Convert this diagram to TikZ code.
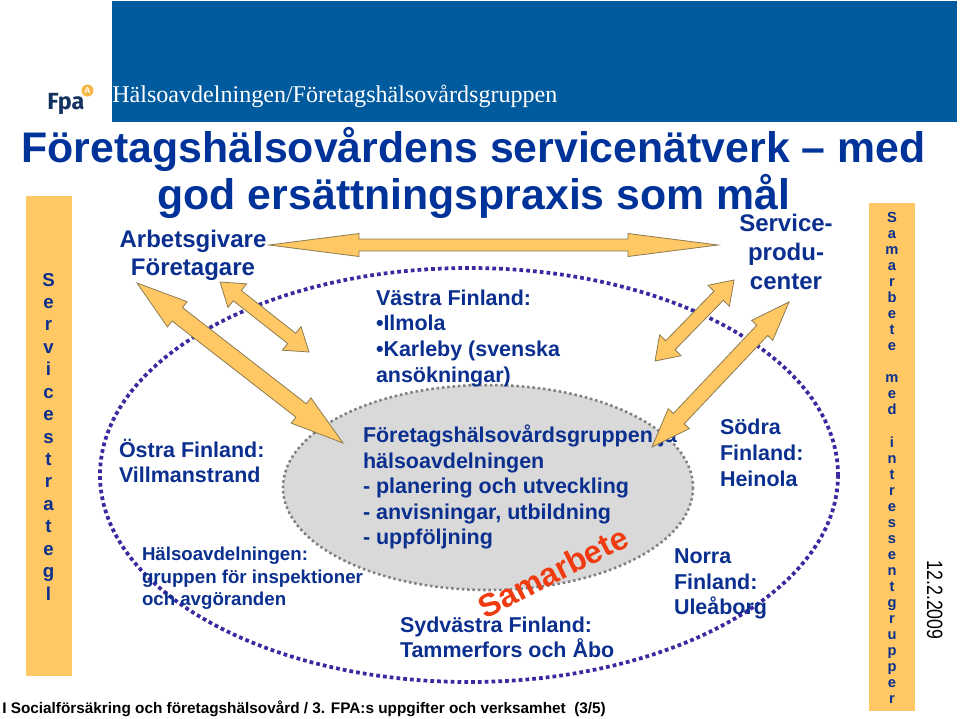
\documentclass[tikz,border=0pt]{standalone}
\usepackage{fontspec}
\setmainfont{Liberation Sans}
\newfontfamily\serifhead{Liberation Serif}
\newfontfamily\logofont{Fira Sans}
\usetikzlibrary{calc,shapes.geometric}
\definecolor{headblue}{HTML}{005A9E}
\definecolor{titleblue}{HTML}{003399}
\definecolor{labelblue}{HTML}{0A2F8F}
\definecolor{barorange}{HTML}{FFC864}
\definecolor{arrowedge}{HTML}{8C7A50}
\definecolor{dotblue}{HTML}{3A2A9F}
\definecolor{dotgrey}{HTML}{808080}
\definecolor{ellipsegrey}{HTML}{D9D9D9}
\definecolor{redorange}{HTML}{F03A10}
\definecolor{logonavy}{HTML}{14325F}
\definecolor{logoorange}{HTML}{F5B642}
\tikzset{
  x=0.75pt,y=-0.75pt,
  bar/.style={fill=barorange,draw=none},
  lab/.style={inner sep=0pt,outer sep=0pt,text=labelblue,anchor=base west},
  labtext/.style={lab,font=\bfseries\fontsize{16.1}{16.1}\selectfont},
  labbig/.style={lab,anchor=base,font=\bfseries\fontsize{18}{18}\selectfont},
  labsmall/.style={lab,font=\bfseries\fontsize{14}{14}\selectfont},
  titleline/.style={inner sep=0pt,text=titleblue,font=\bfseries\fontsize{32.1}{32.1}\selectfont,anchor=base},
  vert/.style={inner sep=0pt,text=labelblue,anchor=base},
  flow/.style={fill=barorange,draw=arrowedge,line width=0.6pt,line join=miter},
}
% \dblarrow{a}{b}{head length at a}{head length at b}{head half width}{shaft half width}, sizes in px
\newcommand{\dblarrow}[6]{%
  \coordinate (hA) at ($(#1)!#3*0.75pt!(#2)$);
  \coordinate (hB) at ($(#2)!#4*0.75pt!(#1)$);
  \draw[flow]
   (#1)
   -- ($(hA)!#5*0.75pt!90:(#2)$)
   -- ($(hA)!#6*0.75pt!90:(#2)$)
   -- ($(hB)!#6*0.75pt!-90:(#1)$)
   -- ($(hB)!#5*0.75pt!-90:(#1)$)
   -- (#2)
   -- ($(hB)!#5*0.75pt!90:(#1)$)
   -- ($(hB)!#6*0.75pt!90:(#1)$)
   -- ($(hA)!#6*0.75pt!-90:(#2)$)
   -- ($(hA)!#5*0.75pt!-90:(#2)$)
   -- cycle;}
\begin{document}
\begin{tikzpicture}
\useasboundingbox (0,0) rectangle (960,718);
\fill[white] (0,0) rectangle (960,718);
% header
\fill[headblue] (112,1) rectangle (957,122);
\node[inner sep=0pt,anchor=base west,text=white,font=\serifhead\fontsize{18.05}{18}\selectfont] (head) at (112,102) {Hälsoavdelningen/Företagshälsovårdsgruppen};
% logo
\node[inner sep=0pt,anchor=base west,text=logonavy,font=\logofont\bfseries\fontsize{17.5}{17.5}\selectfont] (logo) at (47,109) {Fpa};
\fill[logoorange] (87.5,90.5) circle (6);
\node[inner sep=0pt,text=white,font=\bfseries\fontsize{6.5}{6.5}\selectfont] (logoa) at (87.5,90.5) {A};
% title
\node[titleline] (t1) at (473.5,162) {Företagshälsovårdens servicenätverk – med};
\node[titleline] (t2) at (474,209) {god ersättningspraxis som mål};
% side bars
\fill[bar] (26,196) rectangle (72,676);
\fill[bar] (869,203) rectangle (915,711);
\foreach \c [count=\i from 0] in {S,e,r,v,i,c,e,s,t,r,a,t,e,g,l}
  \node[vert,font=\bfseries\fontsize{14}{14}\selectfont] (sv\i) at (48.5,{286+\i*22.43}) {\c};
\foreach \c/\y [count=\i] in {S/222,a/238,m/254,a/270,r/286,b/302,e/318,t/334,e/350,m/382,e/398,d/414,i/447,n/463,t/479,r/495,e/511,s/527,s/543,e/559,n/575,t/591,g/607,r/623,u/639,p/655,p/671,e/687,r/703}
  \node[vert,font=\bfseries\fontsize{11}{11}\selectfont] (sm\i) at (892,\y) {\c};
% outer dotted ellipse
\draw[dotblue,line width=2.8pt,dash pattern=on 2.8pt off 2.3pt] (469,475) ellipse [x radius=369,y radius=207];
% inner grey ellipse
\draw[dotgrey,fill=ellipsegrey,line width=1.9pt,dash pattern=on 1.9pt off 2.1pt] (488,487.5) ellipse [x radius=205,y radius=102.5];
% labels
\node[labbig] (arb) at (193,247) {Arbetsgivare};
\node[labbig] (fore) at (193,275) {Företagare};
\node[labtext] (v1) at (376,305) {Västra Finland:};
\node[labtext] (v2) at (376,330) {•Ilmola};
\node[labtext] (v3) at (376,356) {•Karleby (svenska};
\node[labtext] (v4) at (376,382) {ansökningar)};
\node[labtext] (o1) at (119,457) {Östra Finland:};
\node[labtext] (o2) at (119,482) {Villmanstrand};
\node[labsmall] (h1) at (142,560) {Hälsoavdelningen:};
\node[labsmall] (h2) at (142,583) {gruppen för inspektioner};
\node[labsmall] (h3) at (142,605) {och avgöranden};
\node[labtext] (c1) at (363,442) {Företagshälsovårdsgruppen ja};
\node[labtext] (c2) at (363,468) {hälsoavdelningen};
\node[labtext] (c3) at (363,493) {- planering och utveckling};
\node[labtext] (c4) at (363,519) {- anvisningar, utbildning};
\node[labtext] (c5) at (363,544) {- uppföljning};
\node[labtext] (sy1) at (400,632) {Sydvästra Finland:};
\node[labtext] (sy2) at (400,657) {Tammerfors och Åbo};
\node[labtext] (so1) at (720,434) {Södra};
\node[labtext] (so2) at (720,460) {Finland:};
\node[labtext] (so3) at (720,486) {Heinola};
\node[labtext] (n1) at (674,563) {Norra};
\node[labtext] (n2) at (674,589) {Finland:};
\node[labtext] (n3) at (674,614) {Uleåborg};
\node[labbig] (p1) at (786,231) {Service-};
\node[labbig] (p2) at (786,260) {produ-};
\node[labbig] (p3) at (786,289) {center};
\node[inner sep=0pt,text=redorange,rotate=27,font=\bfseries\fontsize{24}{24}\selectfont] (sam) at (553,572) {Samarbete};
\node[inner sep=0pt,anchor=base west,text=black,font=\bfseries\fontsize{11.5}{11.5}\selectfont] (foot) at (2,713) {I Socialförsäkring och företagshälsovård / 3. FPA:s uppgifter och verksamhet~ (3/5)};
\node[inner sep=0pt,anchor=base,rotate=-90,text=black,font=\fontsize{13.3}{13.3}\selectfont] (date) at (927,600) {\scalebox{1}[1.25]{12.2.2009}};
% arrows
\coordinate (ha) at (269,245);
\coordinate (hb) at (718,245);
\coordinate (la) at (137,283);
\coordinate (lb) at (343,443);
\coordinate (ma) at (220,282);
\coordinate (mb) at (309,352);
\coordinate (ra) at (734,280);
\coordinate (rb) at (655,361);
\coordinate (sa) at (789,302);
\coordinate (sb) at (652,447);
\dblarrow{ha}{hb}{90}{90}{11.5}{6}
\dblarrow{la}{lb}{51}{53}{16}{8.5}
\dblarrow{ma}{mb}{22}{22}{15}{6.5}
\dblarrow{ra}{rb}{22}{22}{15}{6.5}
\dblarrow{sa}{sb}{39}{39}{14.5}{7.5}
\end{tikzpicture}
\end{document}
